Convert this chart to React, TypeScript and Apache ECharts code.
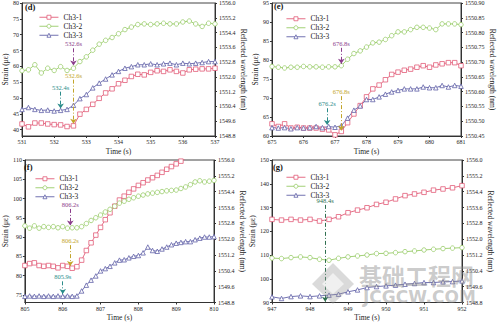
import React, { useEffect, useRef } from "react";
import * as echarts from "echarts";

// ---------- data ----------
const tD = [531, 531.2, 531.4, 531.6, 531.8, 532, 532.2, 532.4, 532.6, 532.8, 533, 533.2, 533.4, 533.6, 533.8, 534, 534.2, 534.4, 534.6, 534.8, 535, 535.2, 535.4, 535.6, 535.8, 536, 536.2, 536.4, 536.6, 536.8, 537];
const d1 = [41.8, 40.9, 42.1, 42.1, 41.8, 41.6, 41.5, 41.0, 41.2, 44.9, 46.4, 48.0, 49.9, 51.6, 52.9, 54.5, 55.6, 56.8, 57.5, 57.3, 58.1, 58.6, 58.4, 58.9, 58.4, 57.9, 58.9, 59.1, 59.2, 59.2, 59.4];
const d2 = [58.6, 58.9, 60.5, 57.9, 59.4, 58.7, 59.9, 58.7, 59.4, 61.5, 63.0, 65.1, 67.0, 68.2, 69.1, 70.3, 71.6, 72.4, 73.2, 73.4, 73.2, 73.4, 73.6, 73.4, 73.4, 74.0, 74.3, 73.4, 72.6, 73.6, 73.4];
const d3 = [46.4, 47.0, 46.4, 46.1, 46.2, 45.9, 46.1, 46.4, 47.7, 49.8, 51.1, 53.2, 54.7, 56.0, 57.3, 58.4, 59.4, 59.9, 60.5, 60.5, 60.8, 60.5, 60.8, 61.0, 60.5, 61.0, 60.8, 61.0, 61.2, 61.5, 61.5];

const tE = [675, 675.2, 675.4, 675.6, 675.8, 676, 676.2, 676.4, 676.6, 676.8, 677, 677.2, 677.4, 677.6, 677.8, 678, 678.2, 678.4, 678.6, 678.8, 679, 679.2, 679.4, 679.6, 679.8, 680, 680.2, 680.4, 680.6, 680.8, 681];
const e1 = [63.2, 62.5, 63.2, 62.1, 62.3, 62.1, 62.1, 62.1, 61.8, 61.6, 60.3, 61.2, 63.5, 65.8, 68.0, 70.3, 72.4, 73.4, 74.8, 76.2, 76.8, 77.3, 77.6, 78.1, 78.5, 78.1, 78.7, 79.0, 79.3, 79.3, 78.5];
const e2 = [78.3, 78.1, 77.9, 78.1, 78.1, 78.3, 78.2, 78.2, 78.1, 78.2, 78.2, 78.5, 80.2, 81.7, 82.4, 83.4, 84.5, 84.7, 85.4, 86.4, 87.4, 87.4, 88.0, 88.6, 88.6, 88.4, 88.0, 89.5, 89.5, 89.5, 89.3];
const e3 = [62.2, 62.1, 62.2, 61.9, 62.2, 62.1, 62.2, 62.5, 62.2, 62.5, 62.3, 62.7, 64.7, 66.8, 67.9, 69.6, 69.6, 70.3, 71.0, 71.6, 72.0, 72.4, 72.4, 72.4, 72.9, 72.7, 72.7, 73.3, 72.9, 73.3, 73.1];

const tF = [805, 805.125, 805.25, 805.375, 805.5, 805.625, 805.75, 805.875, 806, 806.125, 806.25, 806.375, 806.5, 806.625, 806.75, 806.875, 807, 807.125, 807.25, 807.375, 807.5, 807.625, 807.75, 807.875, 808, 808.125, 808.25, 808.375, 808.5, 808.625, 808.75, 808.875, 809, 809.125, 809.25, 809.375, 809.5, 809.625, 809.75, 809.875, 810];
const f1 = [82.6, 83.1, 83.3, 82.6, 82.4, 82.6, 82.4, 82.0, 82.6, 82.4, 81.9, 82.3, 84.0, 86.5, 88.5, 90.5, 92.5, 94.5, 96.3, 98.0, 99.6, 100.6, 101.6, 102.5, 103.4, 104.1, 104.8, 105.4, 106.0, 106.8, 107.6, 108.3, 109.0, 109.7, 110.4, 111.1, 111.8, 112.4, 113.0, 113.6, 114.2];
const f2 = [92.9, 92.3, 92.9, 92.3, 92.7, 92.5, 92.7, 92.4, 92.7, 92.3, 92.4, 92.4, 92.7, 93.5, 94.3, 95.0, 95.7, 96.5, 97.2, 98.0, 98.8, 99.3, 99.8, 100.2, 100.6, 100.9, 101.2, 101.4, 101.6, 101.8, 102.0, 102.1, 102.2, 102.6, 103.0, 103.6, 104.3, 104.6, 104.3, 104.5, 104.7];
const f3 = [74.6, 74.7, 74.6, 74.7, 74.6, 74.7, 74.6, 74.7, 74.6, 74.7, 74.6, 74.7, 76.0, 77.5, 78.8, 79.9, 81.2, 81.8, 82.4, 83.3, 84.0, 84.1, 84.6, 85.0, 85.2, 85.9, 87.4, 86.5, 86.3, 86.9, 87.4, 88.0, 88.4, 88.6, 88.8, 88.8, 89.3, 89.7, 90.0, 90.0, 90.1];

const tG = [947, 947.25, 947.5, 947.75, 948, 948.25, 948.5, 948.75, 949, 949.25, 949.5, 949.75, 950, 950.25, 950.5, 950.75, 951, 951.25, 951.5, 951.75, 952];
const g1 = [125.0, 124.7, 125.0, 124.7, 125.0, 124.3, 125.0, 126.1, 127.8, 128.9, 129.9, 131.3, 132.2, 133.6, 135.0, 135.7, 136.4, 137.3, 137.8, 138.3, 139.2];
const g2 = [108.7, 108.5, 108.9, 109.2, 108.9, 108.2, 107.8, 108.6, 109.2, 109.6, 110.0, 110.6, 110.7, 111.0, 111.4, 111.7, 112.1, 112.4, 112.7, 112.9, 113.1];
const g3 = [92.4, 91.7, 92.5, 92.8, 92.5, 92.8, 93.1, 93.5, 94.5, 95.3, 96.3, 96.7, 97.0, 97.3, 97.7, 98.0, 98.4, 98.4, 98.7, 98.8, 99.1];

// tick labels
const xTicksD = [531, 532, 533, 534, 535, 536, 537];
const xTicksE = [675, 676, 677, 678, 679, 680, 681];
const xTicksF = [805, 806, 807, 808, 809, 810];
const xTicksG = [947, 948, 949, 950, 951, 952];
const leftTicksD = [40, 45, 50, 55, 60, 65, 70, 75, 80];
const leftTicksE = [60, 65, 70, 75, 80, 85, 90, 95];
const leftTicksF = [75, 80, 85, 90, 95, 100, 105, 110];
const leftTicksG = [90, 100, 110, 120, 130, 140, 150];
const rightTicksWide = [1548.8, 1549.6, 1550.4, 1551.2, 1552.0, 1552.8, 1553.6, 1554.4, 1555.2, 1556.0];
const rightTicksE = [1550.45, 1550.5, 1550.55, 1550.6, 1550.65, 1550.7, 1550.75, 1550.8, 1550.85, 1550.9];

const seriesNames = ["Ch3-1", "Ch3-2", "Ch3-3"];
const panelLabels = ["(d)", "(e)", "(f)", "(g)"];

// annotations: [x, yStart, yEnd, label, seriesIdx, colour]
const annD = [
  [532.6, 65.7, 60.3, "532.6s", 1, "purple"],
  [532.6, 55.8, 41.9, "532.6s", 0, "yellow"],
  [532.2, 52.0, 46.7, "532.4s", 2, "teal"],
];
const annE = [
  [677.2, 83.2, 79.0, "676.8s", 1, "purple"],
  [677.2, 70.5, 61.4, "676.8s", 0, "yellow"],
  [676.75, 67.3, 62.9, "676.2s", 2, "teal"],
];
const annF = [
  [806.2, 97.3, 93.0, "806.2s", 1, "purple"],
  [806.2, 87.9, 82.5, "806.2s", 0, "yellow"],
  [806.0, 78.5, 75.2, "805.9s", 2, "teal"],
];
const annG = [[948.4, 131.1, 90.3, "948.4s", 0, "green"]];

// ---------- styles ----------
const FONT = "'Liberation Serif', 'Times New Roman', serif";
const COLORS = ["#e25d78", "#98cc68", "#6262a8"];
const SYMBOLS = ["rect", "circle", "triangle"];
const ANN_COLORS: Record<string, string> = {
  purple: "#8b3d8b",
  yellow: "#c2a52a",
  teal: "#2b8c8a",
  green: "#2f6f4f",
};

const panels = [
  { grid: { left: 22, top: 1, width: 193, height: 135 }, t: tD, ys: [d1, d2, d3], xMin: 531, xMax: 537, xTicks: xTicksD, lMin: 38, lMax: 80, lTicks: leftTicksD, rMin: 1548.8, rMax: 1556.0, rTicks: rightTicksWide, rDec: 1, ann: annD, rGap: 22, legend: { left: 34, top: 8 }, label: { x: 25, y: 2 } },
  { grid: { left: 272, top: 1, width: 189, height: 135 }, t: tE, ys: [e1, e2, e3], xMin: 675, xMax: 681, xTicks: xTicksE, lMin: 60, lMax: 95, lTicks: leftTicksE, rMin: 1550.45, rMax: 1550.9, rTicks: rightTicksE, rDec: 2, ann: annE, rGap: 26, legend: { left: 281, top: 9.5 }, label: { x: 274, y: 1 } },
  { grid: { left: 22, top: 160, width: 192, height: 142.5 }, t: tF, ys: [f1, f2, f3], xMin: 805, xMax: 810, xTicks: xTicksF, lMin: 73, lMax: 110, lTicks: leftTicksF, rMin: 1548.8, rMax: 1556.0, rTicks: rightTicksWide, rDec: 1, ann: annF, rGap: 22, legend: { left: 30, top: 169.5 }, label: { x: 24, y: 162 } },
  { grid: { left: 272, top: 160, width: 190, height: 142.5 }, t: tG, ys: [g1, g2, g3], xMin: 947, xMax: 952, xTicks: xTicksG, lMin: 90, lMax: 150, lTicks: leftTicksG, rMin: 1548.8, rMax: 1556.0, rTicks: rightTicksWide, rDec: 1, ann: annG, rGap: 22, legend: { left: 281, top: 168 }, label: { x: 273, y: 162 } },
];

function buildOption() {
  const grid: any[] = [];
  const xAxis: any[] = [];
  const yAxis: any[] = [];
  const series: any[] = [];
  const legend: any[] = [];
  const graphic: any[] = [];

  const axisLine = { show: true, lineStyle: { color: "#333", width: 1 } };
  const tickLabel = { fontSize: 6, fontFamily: FONT, color: "#222" };
  const nameStyle = { fontSize: 7.5, fontFamily: FONT, color: "#222" };

  panels.forEach((p, i) => {
    grid.push({ ...p.grid, show: true, borderColor: "#444", borderWidth: 1, backgroundColor: "transparent", containLabel: false });
    xAxis.push({
      gridIndex: i, type: "value", min: p.xMin, max: p.xMax, interval: 1,
      axisLine, axisTick: { show: true, length: 2, lineStyle: { color: "#333" }, customValues: p.xTicks },
      axisLabel: { ...tickLabel, margin: 3, customValues: p.xTicks, formatter: (v: number) => String(v) },
      splitLine: { show: false },
      name: "Time (s)", nameLocation: "middle", nameGap: 11, nameTextStyle: nameStyle,
    });
    yAxis.push({
      gridIndex: i, type: "value", position: "left", min: p.lMin, max: p.lMax,
      axisLine, axisTick: { show: true, length: 2, lineStyle: { color: "#333" }, customValues: p.lTicks },
      axisLabel: { ...tickLabel, margin: 3, customValues: p.lTicks, formatter: (v: number) => String(v) },
      splitLine: { show: false },
      name: "Strain (με)", nameLocation: "middle", nameRotate: 90, nameGap: 11, nameTextStyle: nameStyle,
    });
    yAxis.push({
      gridIndex: i, type: "value", position: "right", min: p.rMin, max: p.rMax,
      axisLine, axisTick: { show: true, length: 2, lineStyle: { color: "#333" }, customValues: p.rTicks },
      axisLabel: { ...tickLabel, margin: 4, customValues: p.rTicks, formatter: (v: number) => v.toFixed(p.rDec) },
      splitLine: { show: false },
      name: "Reflected wavelength (nm)", nameLocation: "middle", nameRotate: -90, nameGap: p.rGap, nameTextStyle: nameStyle,
    });

    p.ys.forEach((vals, k) => {
      const anns = p.ann.filter((a: any) => a[4] === k);
      const s: any = {
        type: "line", name: seriesNames[k], xAxisIndex: i, yAxisIndex: i * 2,
        data: p.t.map((t, j) => [t, vals[j]]),
        symbol: SYMBOLS[k], symbolSize: 4.5, showSymbol: true,
        lineStyle: { color: COLORS[k], width: 0.9 },
        itemStyle: { color: "#ffffff", borderColor: COLORS[k], borderWidth: 0.8 },
        clip: true, z: 3,
      };
      if (anns.length) {
        s.markLine = {
          silent: true, animation: false, precision: 2,
          symbol: ["none", "arrow"], symbolSize: 5,
          data: anns.map((a: any) => [
            { coord: [a[0], a[1]], lineStyle: { color: ANN_COLORS[a[5]], type: [4, 2, 1, 2], width: 1 },
              label: { show: true, position: "start", formatter: a[3], color: ANN_COLORS[a[5]], fontSize: 6.5, fontFamily: FONT, distance: 1 },
              itemStyle: { color: ANN_COLORS[a[5]] } },
            { coord: [a[0], a[2]] },
          ]),
        };
      }
      series.push(s);
    });

    legend.push({
      left: p.legend.left, top: p.legend.top, orient: "vertical", selectedMode: false,
      itemWidth: 19, itemHeight: 5, itemGap: 0.5,
      itemStyle: { color: "#ffffff", borderColor: "inherit", borderWidth: 0.8 },
      lineStyle: { width: 0.9 },
      textStyle: { fontSize: 7.5, fontFamily: FONT, color: "#222", lineHeight: 8.5 },
      data: seriesNames,
    });

    graphic.push({
      type: "text", left: p.label.x, top: p.label.y, z: 10,
      style: { text: panelLabels[i], font: `bold 8.5px ${FONT}`, fill: "#111" },
    });
  });

  // watermark
  graphic.push({
    type: "polygon", z: 20, silent: true,
    shape: { points: [[312, 284], [333, 263], [354, 284], [333, 304]] },
    style: { fill: "rgba(150,150,150,0.35)" },
  });
  graphic.push({
    type: "polygon", z: 21, silent: true,
    shape: { points: [[322, 284], [333, 273], [344, 284], [333, 294]] },
    style: { fill: "rgba(255,255,255,0.6)" },
  });
  graphic.push({
    type: "text", left: 359, top: 263, z: 20, silent: true,
    style: { text: "基础工程网", font: "bold 23px 'Noto Sans CJK SC', sans-serif", fill: "rgba(140,140,140,0.45)" },
  });
  graphic.push({
    type: "text", left: 363, top: 288, z: 20, silent: true,
    style: { text: "JCGCW.COM", font: "bold 17px 'DejaVu Sans', sans-serif", fill: "rgba(140,140,140,0.45)" },
  });

  return { animation: false, backgroundColor: "#fff", grid, xAxis, yAxis, series, legend, graphic };
}

export default function App() {
  const ref = useRef<HTMLDivElement>(null);
  useEffect(() => {
    document.body.style.margin = "0";
    const chart = echarts.init(ref.current!, null, { renderer: "svg" });
    chart.setOption(buildOption() as any);
    return () => chart.dispose();
  }, []);
  return <div ref={ref} style={{ width: 500, height: 325 }} />;
}
